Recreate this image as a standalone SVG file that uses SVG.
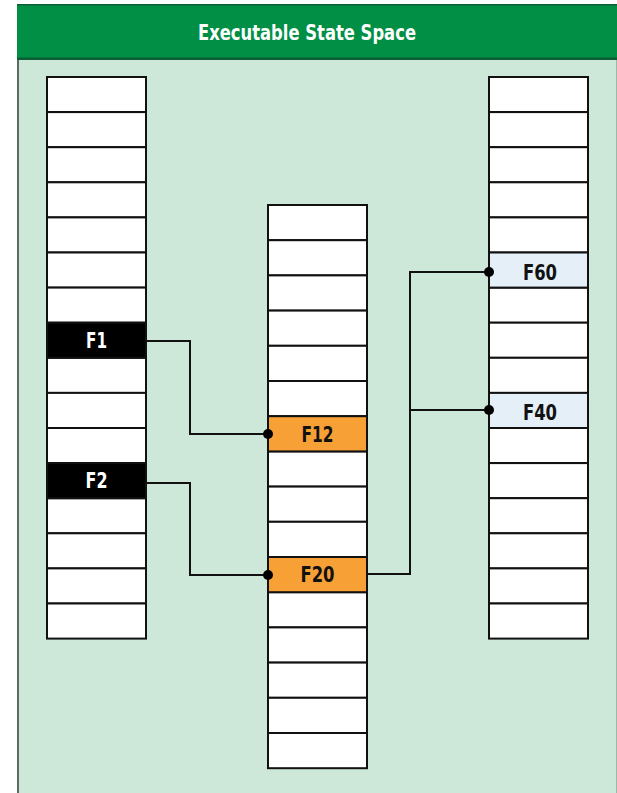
<svg xmlns="http://www.w3.org/2000/svg" width="617" height="793" viewBox="0 0 617 793">
  <style>
    .cell { fill: #ffffff; stroke: #111111; stroke-width: 2; }
    .dark { fill: #000000; stroke: #111111; stroke-width: 2; }
    .hot { fill: #f7a035; stroke: #111111; stroke-width: 2; }
    .cool { fill: #e4eff7; stroke: #111111; stroke-width: 2; }
    .lbl { font-family: "DejaVu Sans Condensed", "Liberation Sans", sans-serif; font-weight: bold; font-size: 22px; text-anchor: middle; }
    .wire { fill: none; stroke: #111111; stroke-width: 2; }
    .dot { fill: #000000; }
  </style>

  <!-- panel -->
  <rect x="17" y="4" width="600" height="789" fill="#cde8d9"/>
  <line x1="18" y1="4" x2="18" y2="793" stroke="#5a6b62" stroke-width="2"/>
  <line x1="616.5" y1="60" x2="616.5" y2="793" stroke="#9bb8a8" stroke-width="1"/>
  <g id="header">
    <rect x="17" y="4" width="600" height="56" fill="#008f45"/>
    <rect x="17" y="4" width="600" height="1.5" fill="#0b5e34"/>
    <rect x="17" y="57.5" width="600" height="2.5" fill="#0b5e34"/>
    <text x="307" y="40" class="lbl" fill="#ffffff" font-size="21" textLength="218" lengthAdjust="spacingAndGlyphs">Executable State Space</text>
  </g>

  <!-- left column: 16 cells -->
  <g id="col-left">
    <rect class="cell" x="47" y="77" width="99" height="35.1"/>
    <rect class="cell" x="47" y="112.1" width="99" height="35.1"/>
    <rect class="cell" x="47" y="147.2" width="99" height="35.1"/>
    <rect class="cell" x="47" y="182.3" width="99" height="35.1"/>
    <rect class="cell" x="47" y="217.4" width="99" height="35.1"/>
    <rect class="cell" x="47" y="252.5" width="99" height="35.1"/>
    <rect class="cell" x="47" y="287.6" width="99" height="35.1"/>
    <rect class="cell" x="47" y="357.8" width="99" height="35.1"/>
    <rect class="cell" x="47" y="392.9" width="99" height="35.1"/>
    <rect class="cell" x="47" y="428" width="99" height="35.1"/>
    <rect class="cell" x="47" y="498.2" width="99" height="35.1"/>
    <rect class="cell" x="47" y="533.3" width="99" height="35.1"/>
    <rect class="cell" x="47" y="568.4" width="99" height="35.1"/>
    <rect class="cell" x="47" y="603.5" width="99" height="35.1"/>
  </g>
  <g id="F1">
    <rect class="dark" x="47" y="322.7" width="99" height="35.1"/>
    <text class="lbl" x="96.5" y="348" fill="#ffffff" textLength="21" lengthAdjust="spacingAndGlyphs">F1</text>
  </g>
  <g id="F2">
    <rect class="dark" x="47" y="463.1" width="99" height="35.1"/>
    <text class="lbl" x="96.5" y="488.4" fill="#ffffff" textLength="22" lengthAdjust="spacingAndGlyphs">F2</text>
  </g>

  <!-- middle column: 16 cells -->
  <g id="col-middle">
    <rect class="cell" x="268" y="205" width="99" height="35.2"/>
    <rect class="cell" x="268" y="240.2" width="99" height="35.2"/>
    <rect class="cell" x="268" y="275.4" width="99" height="35.2"/>
    <rect class="cell" x="268" y="310.6" width="99" height="35.2"/>
    <rect class="cell" x="268" y="345.8" width="99" height="35.2"/>
    <rect class="cell" x="268" y="381" width="99" height="35.2"/>
    <rect class="cell" x="268" y="451.4" width="99" height="35.2"/>
    <rect class="cell" x="268" y="486.6" width="99" height="35.2"/>
    <rect class="cell" x="268" y="521.8" width="99" height="35.2"/>
    <rect class="cell" x="268" y="592.2" width="99" height="35.2"/>
    <rect class="cell" x="268" y="627.4" width="99" height="35.2"/>
    <rect class="cell" x="268" y="662.6" width="99" height="35.2"/>
    <rect class="cell" x="268" y="697.8" width="99" height="35.2"/>
    <rect class="cell" x="268" y="733" width="99" height="35.2"/>
  </g>
  <g id="F12">
    <rect class="hot" x="268" y="416.2" width="99" height="35.2"/>
    <text class="lbl" x="317.5" y="441.5" fill="#111111" textLength="32" lengthAdjust="spacingAndGlyphs">F12</text>
  </g>
  <g id="F20">
    <rect class="hot" x="268" y="557" width="99" height="35.2"/>
    <text class="lbl" x="317.5" y="582.3" fill="#111111" textLength="34" lengthAdjust="spacingAndGlyphs">F20</text>
  </g>

  <!-- right column: 16 cells -->
  <g id="col-right">
    <rect class="cell" x="489" y="77" width="99" height="35.1"/>
    <rect class="cell" x="489" y="112.1" width="99" height="35.1"/>
    <rect class="cell" x="489" y="147.2" width="99" height="35.1"/>
    <rect class="cell" x="489" y="182.3" width="99" height="35.1"/>
    <rect class="cell" x="489" y="217.4" width="99" height="35.1"/>
    <rect class="cell" x="489" y="287.6" width="99" height="35.1"/>
    <rect class="cell" x="489" y="322.7" width="99" height="35.1"/>
    <rect class="cell" x="489" y="357.8" width="99" height="35.1"/>
    <rect class="cell" x="489" y="428" width="99" height="35.1"/>
    <rect class="cell" x="489" y="463.1" width="99" height="35.1"/>
    <rect class="cell" x="489" y="498.2" width="99" height="35.1"/>
    <rect class="cell" x="489" y="533.3" width="99" height="35.1"/>
    <rect class="cell" x="489" y="568.4" width="99" height="35.1"/>
    <rect class="cell" x="489" y="603.5" width="99" height="35.1"/>
  </g>
  <g id="F60">
    <rect class="cool" x="489" y="252.5" width="99" height="35.1"/>
    <text class="lbl" x="540" y="279.5" fill="#111111" textLength="34" lengthAdjust="spacingAndGlyphs">F60</text>
  </g>
  <g id="F40">
    <rect class="cool" x="489" y="392.9" width="99" height="35.1"/>
    <text class="lbl" x="540" y="419.9" fill="#111111" textLength="34" lengthAdjust="spacingAndGlyphs">F40</text>
  </g>

  <!-- connectors -->
  <g id="connectors">
    <polyline class="wire" points="146,341 190,341 190,434 268,434"/>
    <polyline class="wire" points="146,483 190,483 190,575 268,575"/>
    <polyline class="wire" points="367,574 410,574 410,272 489,272"/>
    <line class="wire" x1="410" y1="410" x2="489" y2="410"/>
    <circle class="dot" cx="268" cy="434" r="5"/>
    <circle class="dot" cx="268" cy="575" r="5"/>
    <circle class="dot" cx="489" cy="272" r="5"/>
    <circle class="dot" cx="489" cy="410" r="5"/>
  </g>
</svg>
